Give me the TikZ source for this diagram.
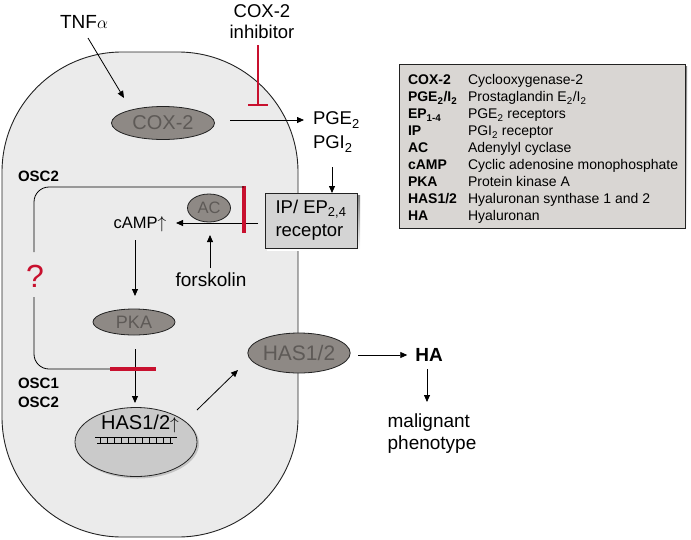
\documentclass[tikz,border=0pt]{standalone}
\usepackage{fontspec}
\setmainfont{Liberation Sans}
\usetikzlibrary{arrows.meta,shapes.geometric}
\definecolor{cellfill}{HTML}{EBEBEB}
\definecolor{enz}{HTML}{8E8985}
\definecolor{enztext}{HTML}{5E5A57}
\definecolor{inhred}{HTML}{C8102E}
\definecolor{legfill}{HTML}{D9D6D3}
\definecolor{recfill}{HTML}{D4D4D4}
\definecolor{nucfill}{HTML}{CACACA}
\definecolor{edge}{HTML}{222222}
\definecolor{shade}{HTML}{9A9A9A}
\definecolor{softshade}{HTML}{C4C4C4}
\begin{document}
\begin{tikzpicture}[x=1pt,y=-1pt,
  every node/.style={inner sep=0pt,outer sep=0pt},
  lbl/.style={font=\fontsize{19}{22}\selectfont,align=center},
  enzyme/.style={ellipse,draw=edge,fill=enz,text=enztext,line width=0.8pt},
  arr/.style={draw=black,line width=0.8pt,-{Triangle[length=7pt,width=6pt]}},
  plain/.style={draw=black,line width=0.8pt},
  inhib/.style={draw=inhred,line width=1.6pt},
  redbar/.style={draw=inhred,line width=3.2pt}]
\useasboundingbox (0,0) rectangle (691,539);

% cell
\draw[fill=cellfill,draw=edge,line width=0.9pt,rounded corners=120pt] (2,52) rectangle (298,537);

% legend
\fill[shade] (401,66) rectangle (687,230);
\draw[fill=legfill,draw=edge,line width=0.9pt] (399,64) rectangle (685,228);
\node[anchor=north west,font=\fontsize{14}{17}\selectfont] (legend) at (408,73) {%
\begin{tabular}{@{}p{60pt}@{}l@{}}
\textbf{COX-2} & Cyclooxygenase-2\\
\textbf{PGE\textsubscript{2}/I\textsubscript{2}} & Prostaglandin E\textsubscript{2}/I\textsubscript{2}\\
\textbf{EP\textsubscript{1-4}} & PGE\textsubscript{2} receptors\\
\textbf{IP} & PGI\textsubscript{2} receptor\\
\textbf{AC} & Adenylyl cyclase\\
\textbf{cAMP} & Cyclic adenosine monophosphate\\
\textbf{PKA} & Protein kinase A\\
\textbf{HAS1/2} & Hyaluronan synthase 1 and 2\\
\textbf{HA} & Hyaluronan
\end{tabular}};

% top
\node[lbl] (tnf) at (84,22) {TNF$\alpha$};
\node[lbl,font=\fontsize{18.5}{21}\selectfont] (inh) at (262,22) {COX-2\\inhibitor};
\node[enzyme,minimum width=103pt,minimum height=33pt,font=\fontsize{20}{22}\selectfont] (cox) at (163,123) {COX-2};
\coordinate (tnfEnd) at (124,98);
\draw[arr] (88,38) -- (tnfEnd);
\coordinate (inhTop) at (258,45);
\coordinate (inhEnd) at (258,105);
\draw[inhib] (inhTop) -- (inhEnd);
\draw[inhib] (248,105) -- (268,105);
\node[lbl,anchor=west,align=left,font=\fontsize{18.5}{24}\selectfont] (pge) at (313,132) {PGE\textsubscript{2}\\PGI\textsubscript{2}};
\coordinate (coxOut) at (230,120);
\coordinate (pgeIn) at (304,120);
\draw[arr] (coxOut) -- (pgeIn);

% receptor
\fill[shade] (267,195) rectangle (360,250);
\node[draw=edge,fill=recfill,line width=0.8pt,minimum width=92pt,minimum height=55pt,
  font=\fontsize{18.5}{23}\selectfont,align=left] (rec) at (311,220.5) {IP/ EP\textsubscript{2,4}\\receptor};
\coordinate (pgeDown) at (332,167);
\draw[arr] (pgeDown) -- (rec.north -| pgeDown);

% AC, cAMP, forskolin
\node[enzyme,minimum width=43pt,minimum height=28pt,font=\fontsize{16.5}{18}\selectfont] (ac) at (209,208) {AC};
\node[lbl,font=\fontsize{16.5}{18}\selectfont] (camp) at (140,224) {cAMP$\uparrow$};
\coordinate (recOut) at (258,223);
\coordinate (campIn) at (176,223);
\draw[arr] (recOut) -- (campIn);
\node[lbl] (forsk) at (211,280) {forskolin};
\coordinate (forskTop) at (210,268);
\coordinate (acIn) at (210,235);
\draw[arr] (forskTop) -- (acIn);

% red bar at receptor
\coordinate (barTop) at (244,186);
\coordinate (barBot) at (244,233);
\draw[redbar] (barTop) -- (barBot);

% PKA
\coordinate (campDown) at (135,240);
\coordinate (pkaIn) at (135,296);
\draw[arr] (campDown) -- (pkaIn);
\node[enzyme,minimum width=82pt,minimum height=26pt,font=\fontsize{18}{20}\selectfont] (pka) at (134,322) {PKA};

% nucleus
\fill[softshade] (137.5,443.5) ellipse (61.5pt and 35pt);
\node[ellipse,draw=edge,fill=nucfill,line width=0.8pt,minimum width=122pt,minimum height=69pt] (nuc) at (136,442) {};
\node[font=\fontsize{20}{22}\selectfont] (hasgene) at (140,424) {HAS1/2{\fontsize{17}{20}\selectfont$\uparrow$}};
\draw[line width=0.9pt] (95,437) -- (177,437);
\draw[line width=0.9pt] (97,443) -- (173,443);
\foreach \i in {0,...,10} {\draw[line width=0.7pt] (100+\i*7,437) -- (100+\i*7,443);}

% PKA -> nucleus with red bar
\coordinate (pkaOut) at (135,349);
\coordinate (nucIn) at (135,403);
\draw[arr] (pkaOut) -- (nucIn);

% OSC2 loop
\coordinate (loopA) at (244,187);
\coordinate (loopB) at (34,187);
\coordinate (loopC) at (34,252);
\coordinate (loopD) at (34,297);
\coordinate (loopE) at (34,369);
\coordinate (loopF) at (112,369);
\draw[plain,rounded corners=15pt] (loopA) -- (loopB) -- (loopC);
\draw[plain,rounded corners=15pt] (loopD) -- (loopE) -- (loopF);
\node[text=inhred,font=\fontsize{32}{34}\selectfont] (q) at (35,276) {?};
\coordinate (rbL) at (110,369);
\coordinate (rbR) at (156,369);
\draw[redbar] (rbL) -- (rbR);

\node[font=\bfseries\fontsize{15}{19}\selectfont,anchor=west] (osc2top) at (18,176) {OSC2};
\node[font=\bfseries\fontsize{15}{19}\selectfont,anchor=west,align=left] (osc12) at (18,392.5) {OSC1\\OSC2};

% HAS1/2 protein
\node[enzyme,minimum width=98pt,minimum height=40pt,font=\fontsize{21}{23}\selectfont] (has) at (299,353) {HAS1/2};
\coordinate (nucOut) at (197,410);
\coordinate (hasIn) at (238,370);
\draw[arr] (nucOut) -- (hasIn);

% HA
\node[font=\bfseries\fontsize{19}{22}\selectfont] (ha) at (429,355) {HA};
\coordinate (hasOut) at (358,355);
\draw[arr,shorten >=8pt] (hasOut) -- (ha.west);
\coordinate (haDown) at (427,369);
\coordinate (malIn) at (427,402);
\draw[arr] (haDown) -- (malIn);
\node[lbl,align=left,font=\fontsize{19}{22}\selectfont] (mal) at (432,434) {malignant\\phenotype};
\end{tikzpicture}
\end{document}
